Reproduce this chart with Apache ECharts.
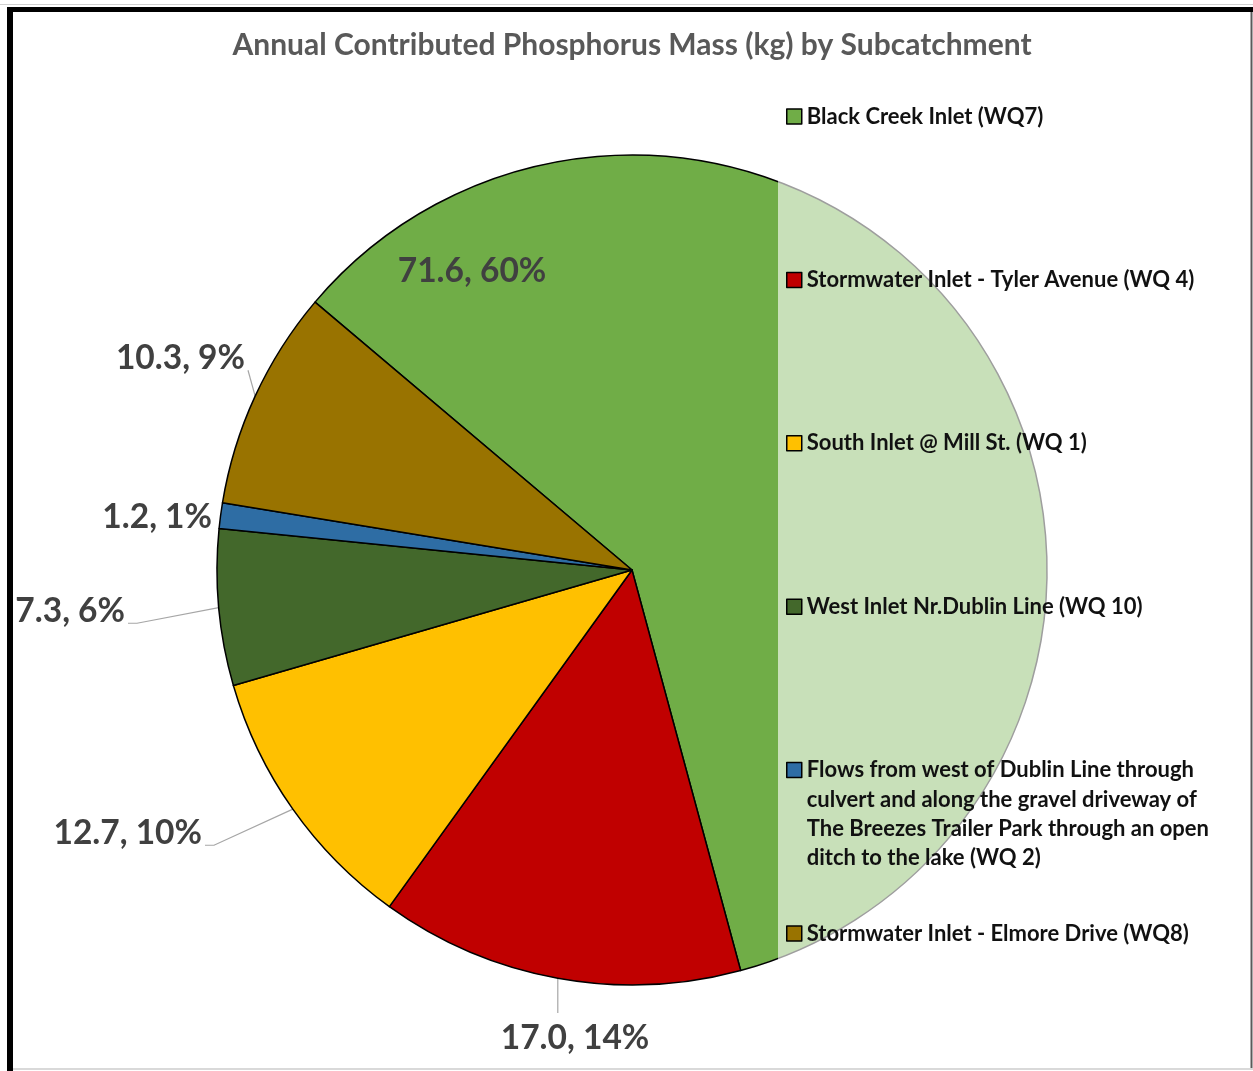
<!DOCTYPE html>
<html><head><meta charset="utf-8">
<script src="https://cdn.jsdelivr.net/npm/echarts@6/dist/echarts.min.js"></script>
<style>html,body{margin:0;padding:0;background:#fff}#c{width:1253px;height:1071px}</style>
</head><body><div id="c"></div>
<script>
// ---- data ----
const categories = [
  'Black Creek Inlet (WQ7)',
  'Stormwater Inlet - Tyler Avenue (WQ 4)',
  'South Inlet @ Mill St. (WQ 1)',
  'West Inlet Nr.Dublin Line (WQ 10)',
  'Flows from west of Dublin Line through culvert and along the gravel driveway of The Breezes Trailer Park through an open ditch to the lake (WQ 2)',
  'Stormwater Inlet - Elmore Drive (WQ8)'
];
const values = [71.6, 17.0, 12.7, 7.3, 1.2, 10.3];
const titleText = 'Annual Contributed Phosphorus Mass (kg) by Subcatchment';

// ---- styles / layout ----
const palette = ['#70AD47', '#C00000', '#FFC000', '#43682B', '#2E6DA4', '#997300'];
const FONT = 'Lato';
const LH = 29.4;              // legend line height
const SLOT = 163.4;           // legend entry pitch
const WRAPPED = categories[4]; // the entry that wraps onto 4 lines
const NBSP = '\u00a0';
// label anchor: [x, y, align]
const labelAnchors = [
  [472, 271, 'center'],
  [575, 1038, 'center'],
  [202, 833, 'right'],
  [125, 611, 'right'],
  [212, 517, 'right'],
  [245, 358, 'right']
];

const chart = echarts.init(document.getElementById('c'));
chart.setOption({
  animation: false,
  backgroundColor: '#fff',
  title: {
    text: titleText,
    left: 632, top: 30, textAlign: 'center', padding: 0,
    textStyle: { fontFamily: FONT, fontSize: 30, fontWeight: 'bold', color: '#595959', lineHeight: 30 }
  },
  legend: {
    orient: 'vertical',
    left: 778, top: 116.5 - 3.5 * LH,
    padding: [0, 30, 0, 8],
    itemWidth: 15, itemHeight: 15,
    itemGap: SLOT - 7 * LH,
    icon: 'rect',
    selectedMode: false,
    backgroundColor: 'rgba(255,255,255,0.62)',
    itemStyle: { borderColor: '#000', borderWidth: 1.5 },
    // pad every entry to 7 text lines so the marker sits on the first line
    formatter: n => n === WRAPPED ? NBSP + '\n\n\n' + n : NBSP + '\n\n\n' + n + '\n\n\n' + NBSP,
    textStyle: {
      fontFamily: FONT, fontSize: 22, fontWeight: 'bold', color: '#111',
      lineHeight: LH, width: 420, overflow: 'break',
      backgroundColor: 'rgba(0,0,0,0)'
    },
    data: categories
  },
  series: [{
    type: 'pie',
    center: [632, 570],
    radius: 415,
    startAngle: 139.8,
    clockwise: true,
    avoidLabelOverlap: false,
    percentPrecision: 0,
    emphasis: { disabled: true },
    itemStyle: { borderColor: '#000', borderWidth: 1.5 },
    label: {
      show: true, position: 'outside',
      formatter: p => p.value.toFixed(1) + ', ' + p.percent + '%',
      fontFamily: FONT, fontSize: 33.5, fontWeight: 'bold', color: '#404040'
    },
    labelLine: { show: true, length: 20, length2: 10, lineStyle: { color: '#a6a6a6', width: 1.2 } },
    labelLayout: function (params) {
      const a = labelAnchors[params.dataIndex];
      const out = { x: a[0], y: a[1], align: a[2], verticalAlign: 'middle' };
      const pts = params.labelLinePoints;
      if (pts && pts.length) {
        const p0 = pts[0];
        const h = params.labelRect.height;
        if (a[2] === 'center') {
          out.labelLinePoints = [p0, [p0[0], a[1] - h / 2 - 8]];
        } else {
          const ey = a[1] + h * 0.36, ex = a[0] + 3;
          out.labelLinePoints = (p0[0] - ex > 40) ? [p0, [ex + 9, ey], [ex, ey]] : [p0, [ex, ey]];
        }
      }
      return out;
    },
    data: values.map((v, i) => {
      const d = { name: categories[i], value: v, itemStyle: { color: palette[i] } };
      if (i === 0 || i === 4) d.labelLine = { show: false };
      return d;
    })
  }],
  graphic: [
    { type: 'rect', z: 100, shape: { x: 0, y: 4, width: 1253, height: 1 }, style: { fill: '#d0d0d0' } },
    { type: 'rect', z: 100, shape: { x: 7, y: 7, width: 1246, height: 5 }, style: { fill: '#000' } },
    { type: 'rect', z: 100, shape: { x: 7, y: 7, width: 6, height: 1064 }, style: { fill: '#000' } },
    { type: 'rect', z: 100, shape: { x: 1250.5, y: 12, width: 2, height: 1057 }, style: { fill: '#5a5a5a' } },
    { type: 'rect', z: 100, shape: { x: 13, y: 1068, width: 1240, height: 2 }, style: { fill: '#d9d9d9' } }
  ]
});
</script>
</body></html>
